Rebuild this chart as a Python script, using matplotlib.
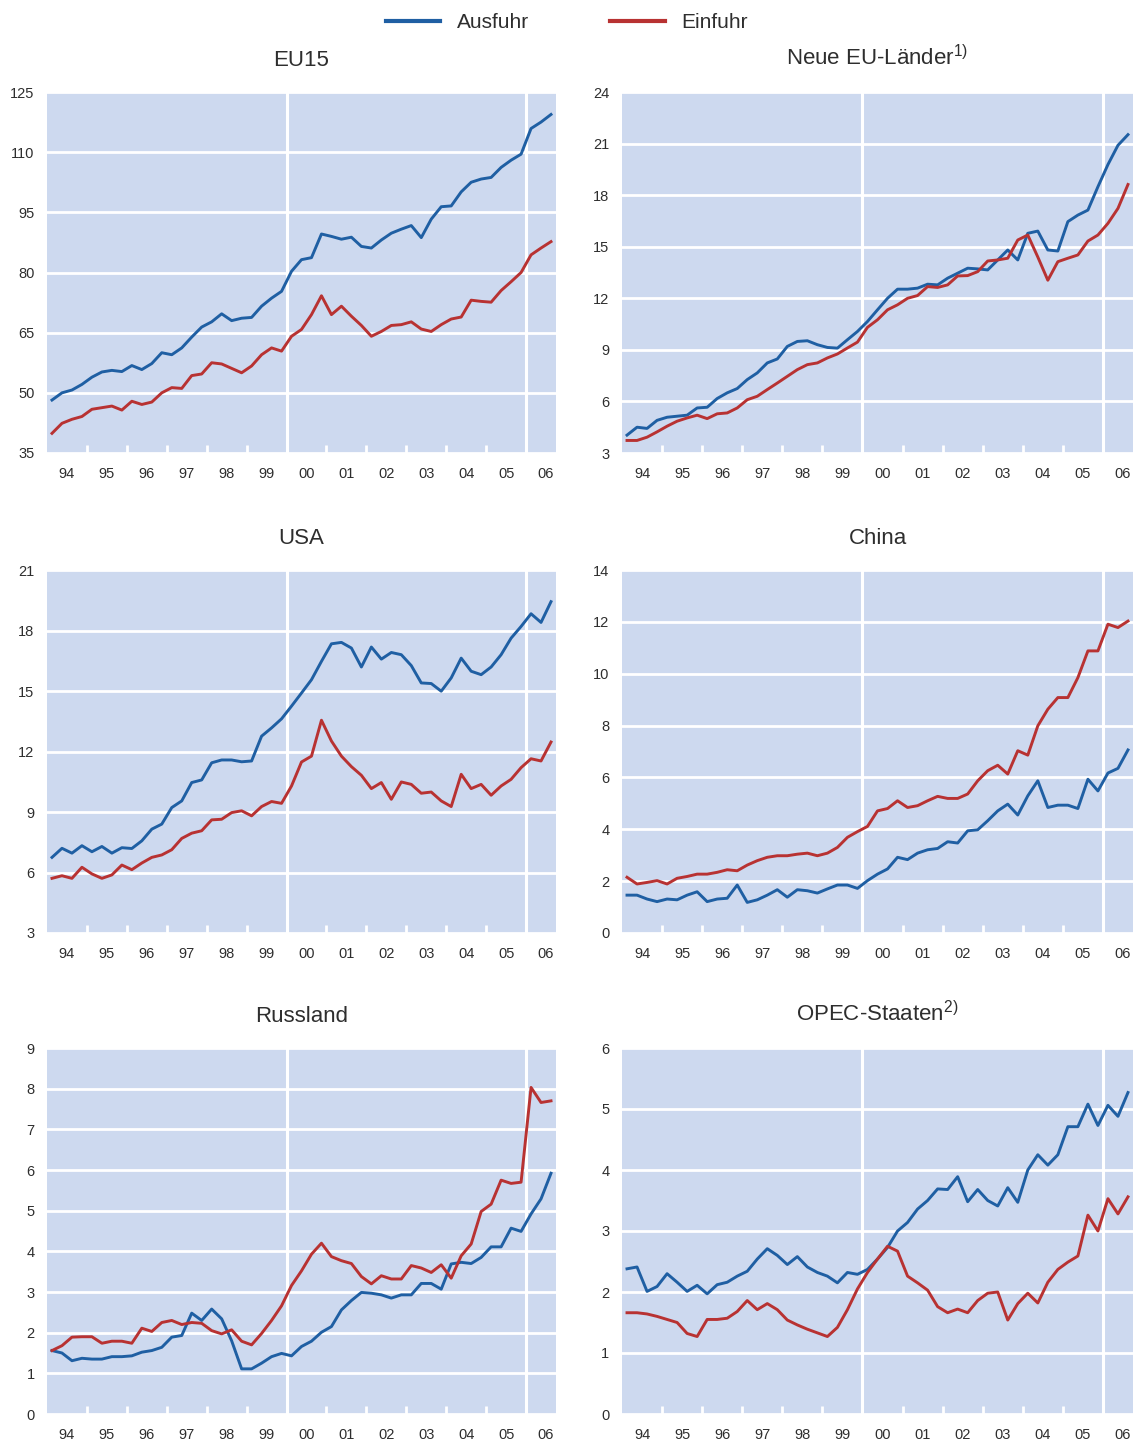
import numpy as np
import matplotlib
matplotlib.use("Agg")
import matplotlib.pyplot as plt

plt.rcParams['font.family'] = ['Liberation Sans', 'DejaVu Sans']
plt.rcParams['mathtext.default'] = 'regular'

# quarterly values, 1994 Q1 .. 2006 Q3 (Mrd Euro)
years = ['94', '95', '96', '97', '98', '99', '00', '01', '02', '03', '04', '05', '06']

eu15_aus = [48.2, 50.0, 50.7, 52.1, 53.9, 55.2, 55.6, 55.3, 56.8, 55.8, 57.3, 60.0, 59.5,
            61.2, 63.9, 66.4, 67.7, 69.7, 68.0, 68.6, 68.8, 71.6, 73.6, 75.3, 80.3, 83.2,
            83.7, 89.6, 89.0, 88.3, 88.8, 86.5, 86.1, 88.1, 89.8, 90.8, 91.7, 88.7, 93.3,
            96.4, 96.6, 100.1, 102.5, 103.3, 103.7, 106.2, 108.0, 109.5, 115.9, 117.5, 119.4]
eu15_ein = [39.9, 42.4, 43.4, 44.1, 45.9, 46.3, 46.7, 45.7, 47.9, 47.1, 47.7, 50.0, 51.3,
            51.1, 54.3, 54.7, 57.5, 57.2, 56.1, 55.0, 56.7, 59.5, 61.2, 60.4, 64.1, 65.8,
            69.5, 74.2, 69.5, 71.6, 69.1, 66.8, 64.1, 65.3, 66.8, 67.0, 67.7, 65.9, 65.3,
            67.0, 68.4, 68.9, 73.1, 72.8, 72.6, 75.5, 77.7, 80.0, 84.4, 86.1, 87.7]

neu_aus = [4.04, 4.5, 4.43, 4.9, 5.08, 5.14, 5.2, 5.62, 5.66, 6.17, 6.5, 6.75, 7.27,
           7.66, 8.24, 8.47, 9.2, 9.49, 9.53, 9.3, 9.14, 9.1, 9.59, 10.07, 10.65, 11.33,
           12.0, 12.53, 12.53, 12.59, 12.82, 12.78, 13.17, 13.46, 13.75, 13.71, 13.65, 14.23, 14.81,
           14.23, 15.78, 15.91, 14.81, 14.75, 16.46, 16.84, 17.13, 18.49, 19.78, 20.9, 21.52]
neu_ein = [3.73, 3.73, 3.92, 4.23, 4.56, 4.85, 5.04, 5.2, 5.0, 5.28, 5.33, 5.62, 6.1,
           6.3, 6.69, 7.07, 7.46, 7.85, 8.14, 8.24, 8.53, 8.76, 9.11, 9.45, 10.31, 10.75,
           11.33, 11.62, 12.0, 12.16, 12.68, 12.63, 12.78, 13.3, 13.32, 13.55, 14.17, 14.23, 14.33,
           15.39, 15.68, 14.4, 13.05, 14.13, 14.33, 14.52, 15.33, 15.68, 16.36, 17.23, 18.62]

usa_aus = [6.75, 7.2, 6.96, 7.33, 7.03, 7.29, 6.96, 7.23, 7.19, 7.57, 8.15, 8.4, 9.22,
           9.55, 10.46, 10.59, 11.44, 11.58, 11.58, 11.49, 11.53, 12.76, 13.17, 13.62, 14.25, 14.9,
           15.56, 16.47, 17.34, 17.41, 17.13, 16.19, 17.18, 16.58, 16.91, 16.8, 16.26, 15.4, 15.37,
           14.99, 15.65, 16.63, 15.98, 15.81, 16.19, 16.8, 17.62, 18.2, 18.83, 18.4, 19.43]
usa_ein = [5.71, 5.84, 5.71, 6.26, 5.93, 5.71, 5.88, 6.37, 6.14, 6.47, 6.75, 6.87, 7.13,
           7.69, 7.95, 8.07, 8.61, 8.64, 8.97, 9.06, 8.81, 9.27, 9.52, 9.43, 10.29, 11.48,
           11.77, 13.55, 12.52, 11.77, 11.25, 10.82, 10.16, 10.46, 9.63, 10.49, 10.37, 9.93, 9.99,
           9.55, 9.27, 10.87, 10.16, 10.37, 9.83, 10.29, 10.62, 11.2, 11.64, 11.53, 12.47]

china_aus = [1.46, 1.46, 1.31, 1.21, 1.31, 1.28, 1.46, 1.59, 1.21, 1.31, 1.34, 1.85, 1.18,
             1.28, 1.46, 1.67, 1.38, 1.67, 1.63, 1.54, 1.7, 1.85, 1.85, 1.72, 2.02, 2.27,
             2.47, 2.92, 2.83, 3.08, 3.21, 3.26, 3.52, 3.47, 3.94, 3.98, 4.33, 4.71, 4.97,
             4.55, 5.29, 5.87, 4.84, 4.93, 4.93, 4.8, 5.93, 5.48, 6.17, 6.35, 7.06]
china_ein = [2.15, 1.89, 1.95, 2.02, 1.89, 2.11, 2.18, 2.27, 2.27, 2.34, 2.44, 2.4, 2.62,
             2.79, 2.92, 2.98, 2.98, 3.04, 3.08, 2.98, 3.08, 3.3, 3.69, 3.91, 4.11, 4.71,
             4.8, 5.1, 4.84, 4.91, 5.1, 5.27, 5.19, 5.19, 5.36, 5.87, 6.26, 6.47, 6.13,
             7.03, 6.86, 7.99, 8.63, 9.08, 9.08, 9.85, 10.88, 10.88, 11.91, 11.78, 12.03]

rus_aus = [1.56, 1.5, 1.31, 1.37, 1.35, 1.35, 1.41, 1.41, 1.43, 1.52, 1.56, 1.64, 1.89,
           1.93, 2.48, 2.3, 2.58, 2.34, 1.8, 1.11, 1.11, 1.25, 1.41, 1.49, 1.43, 1.66,
           1.79, 2.01, 2.15, 2.56, 2.79, 2.99, 2.97, 2.93, 2.85, 2.93, 2.93, 3.21, 3.21,
           3.07, 3.69, 3.73, 3.7, 3.85, 4.11, 4.11, 4.57, 4.49, 4.92, 5.29, 5.92]
rus_ein = [1.56, 1.68, 1.89, 1.9, 1.9, 1.74, 1.79, 1.79, 1.74, 2.11, 2.03, 2.25, 2.3,
           2.2, 2.25, 2.23, 2.05, 1.97, 2.07, 1.79, 1.7, 1.98, 2.3, 2.66, 3.16, 3.52,
           3.93, 4.2, 3.87, 3.77, 3.7, 3.38, 3.2, 3.4, 3.32, 3.32, 3.65, 3.59, 3.48,
           3.67, 3.34, 3.89, 4.18, 4.98, 5.16, 5.75, 5.67, 5.7, 8.03, 7.66, 7.7]

opec_aus = [2.38, 2.41, 2.01, 2.09, 2.3, 2.16, 2.01, 2.11, 1.97, 2.12, 2.16, 2.26, 2.34,
            2.54, 2.71, 2.6, 2.45, 2.58, 2.41, 2.32, 2.26, 2.15, 2.32, 2.29, 2.37, 2.54,
            2.73, 3.0, 3.14, 3.36, 3.5, 3.69, 3.68, 3.89, 3.48, 3.68, 3.5, 3.41, 3.71,
            3.47, 4.0, 4.25, 4.08, 4.25, 4.71, 4.71, 5.08, 4.73, 5.06, 4.88, 5.27]
opec_ein = [1.66, 1.66, 1.64, 1.6, 1.55, 1.5, 1.32, 1.27, 1.55, 1.55, 1.57, 1.68, 1.86,
            1.71, 1.81, 1.71, 1.54, 1.46, 1.39, 1.33, 1.27, 1.42, 1.71, 2.05, 2.32, 2.54,
            2.75, 2.67, 2.26, 2.15, 2.03, 1.76, 1.66, 1.72, 1.66, 1.86, 1.98, 2.0, 1.54,
            1.81, 1.98, 1.82, 2.16, 2.37, 2.49, 2.59, 3.26, 3.0, 3.53, 3.28, 3.56]

titles = ['EU15', 'Neue EU-Länder$^{1)}$', 'USA', 'China', 'Russland', 'OPEC-Staaten$^{2)}$']
y_ticks = [np.arange(35, 126, 15), np.arange(3, 25, 3), np.arange(3, 22, 3),
           np.arange(0, 15, 2), np.arange(0, 10, 1), np.arange(0, 7, 1)]
panels = [(eu15_aus, eu15_ein), (neu_aus, neu_ein), (usa_aus, usa_ein),
          (china_aus, china_ein), (rus_aus, rus_ein), (opec_aus, opec_ein)]

blue = '#1f5fa3'
red = '#b83232'
bg = '#cdd9ef'
txt = '#2e2e2e'

x = 1994 + (np.arange(len(eu15_aus)) + 0.5) / 4.0

W, H = 1134, 1442
fig = plt.figure(figsize=(W / 100, H / 100), dpi=100)

col_x = [47, 622]
col_w = [509, 511]
rows = [(92, 453), (570, 933), (1048, 1414)]


def draw_panel(ax, aus, ein, title, yt):
    ax.set_facecolor(bg)
    for s in ax.spines.values():
        s.set_visible(False)
    ax.set_xlim(1994.0, 2006.75)
    ax.set_ylim(yt[0], yt[-1])
    ax.set_yticks(yt)
    ax.grid(axis='y', color='white', linewidth=2.0)
    ax.set_axisbelow(True)
    ax.axvline(2000, color='white', linewidth=2.2, zorder=1)
    ax.axvline(2006, color='white', linewidth=2.2, zorder=1)
    ax.plot(x, aus, color=blue, linewidth=2.1, zorder=3)
    ax.plot(x, ein, color=red, linewidth=2.1, zorder=3)
    # year boundaries as short white ticks, labels in the middle of each year
    ax.set_xticks(np.arange(1995, 2007))
    ax.set_xticklabels([])
    ax.tick_params(axis='x', which='major', direction='in', color='white',
                   length=6, width=2)
    ax.set_xticks(np.arange(1994, 2007) + 0.5, minor=True)
    ax.set_xticklabels(years, minor=True)
    ax.tick_params(axis='x', which='minor', length=0, pad=10,
                   labelsize=10.5, labelcolor=txt)
    ax.tick_params(axis='y', length=0, pad=9, labelsize=10.5, labelcolor=txt)
    ax.set_title(title, fontsize=16, color=txt, pad=19)


for k in range(6):
    r, c = k // 2, k % 2
    top, bot = rows[r]
    ax = fig.add_axes([col_x[c] / W, 1 - bot / H, col_w[c] / W, (bot - top) / H])
    draw_panel(ax, panels[k][0], panels[k][1], titles[k], y_ticks[k])

h1, = plt.plot([], [], color=blue, linewidth=3)
h2, = plt.plot([], [], color=red, linewidth=3)
fig.legend([h1, h2], ['Ausfuhr', 'Einfuhr'], loc='upper center',
           bbox_to_anchor=(0.5, 1.004), ncol=2, frameon=False, fontsize=15,
           handlelength=2.6, handletextpad=0.8, columnspacing=3.9,
           labelcolor=txt)

plt.savefig('out.png', dpi=100)
